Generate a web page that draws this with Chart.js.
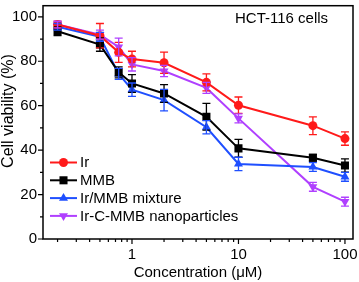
<!DOCTYPE html>
<html>
<head>
<script src="https://cdn.jsdelivr.net/npm/chart.js@4.4.0/dist/chart.umd.min.js"></script>
<style>
  html, body { margin: 0; padding: 0; background: #fff; }
  #wrap { width: 359px; height: 282px; }
</style>
</head>
<body>
<div id="wrap"><canvas id="myChart" width="359" height="282"></canvas></div>
<script>
// concentration (uM) and cell viability (%)
const conc = [0.2, 0.5, 0.75, 1, 2, 5, 10, 50, 100]

const irMean  = [96.5, 91.5, 84, 81, 79.3, 70.5, 60.2, 51, 45.2]
const irErr   = [1.5, 5.5, 4.5, 3.5, 4.8, 3.8, 3.7, 4, 3]
const mmbMean = [93.5, 87.5, 75, 70, 65.5, 55, 40.8, 36.6, 33.1]
const mmbErr  = [2, 3, 2.5, 4, 4, 6, 4, 1.5, 3]
const mixMean = [95.5, 91, 74.3, 67.2, 62.5, 50.3, 33.8, 32.4, 28]
const mixErr  = [1.5, 2, 2.5, 3, 4.8, 3, 3, 2, 2]
const nanoMean = [96.5, 92, 86.4, 78.6, 75.6, 68, 54.3, 23.5, 16.8]
const nanoErr  = [1.5, 2, 4, 3, 2.5, 2.5, 2, 2, 2]

const seriesNames = ['Ir', 'MMB', 'Ir/MMB mixture', 'Ir-C-MMB nanoparticles']
const xMajor = [1, 10, 100]
const yMajor = [0, 20, 40, 60, 80, 100]

const FONT = 'Arial, "Liberation Sans", sans-serif'

const toPoints = (arr) => conc.map((c, i) => ({ x: c, y: arr[i] }))

// 오차 막대
const errorBars = {
    id: 'errorBars',
    afterDatasetsDraw(chart) {
        const ctx = chart.ctx
        const ys = chart.scales.y
        chart.data.datasets.forEach((ds, di) => {
            const meta = chart.getDatasetMeta(di)
            ctx.save()
            ctx.strokeStyle = ds.borderColor
            ctx.lineWidth = 1.3
            meta.data.forEach((pt, i) => {
                const v = ds.data[i].y
                const e = ds.errors[i]
                const top = ys.getPixelForValue(v + e)
                const bot = ys.getPixelForValue(v - e)
                ctx.beginPath()
                ctx.moveTo(pt.x, top); ctx.lineTo(pt.x, bot)
                ctx.moveTo(pt.x - 4, top); ctx.lineTo(pt.x + 4, top)
                ctx.moveTo(pt.x - 4, bot); ctx.lineTo(pt.x + 4, bot)
                ctx.stroke()
            })
            ctx.restore()
        })
    }
}

// frame, ticks, legend, y title, annotation
const decor = {
    id: 'decor',
    afterDraw(chart) {
        const ctx = chart.ctx
        const a = chart.chartArea
        const xs = chart.scales.x
        const ys = chart.scales.y
        ctx.save()
        ctx.strokeStyle = '#000'
        ctx.lineWidth = 1.5
        ctx.strokeRect(a.left, a.top, a.right - a.left, a.bottom - a.top)

        ctx.lineWidth = 1.2
        ctx.beginPath()
        // x ticks (log, minors 2..9)
        for (let d = 0.1; d <= 100; d *= 10) {
            for (let m = 1; m <= 9; m++) {
                const v = d * m
                if (v < xs.min || v > xs.max) continue
                const px = xs.getPixelForValue(v)
                const len = (m === 1) ? 5 : 3
                ctx.moveTo(px, a.bottom); ctx.lineTo(px, a.bottom + len)
            }
        }
        // y ticks
        for (let v = 0; v <= 100; v += 10) {
            const py = ys.getPixelForValue(v)
            const len = (v % 20 === 0) ? 5 : 3
            ctx.moveTo(a.left, py); ctx.lineTo(a.left - len, py)
        }
        ctx.stroke()

        // legend
        ctx.font = '15px ' + FONT
        ctx.textBaseline = 'middle'
        ctx.textAlign = 'left'
        chart.data.datasets.forEach((ds, i) => {
            const y = 162.5 + i * 17.8
            ctx.strokeStyle = ds.borderColor
            ctx.lineWidth = 2
            ctx.beginPath(); ctx.moveTo(50, y); ctx.lineTo(77, y); ctx.stroke()
            ctx.fillStyle = ds.borderColor
            Chart.helpers.drawPoint(ctx, {
                pointStyle: ds.pointStyle,
                radius: ds.pointRadius,
                rotation: ds.pointRotation || 0,
                borderWidth: 0
            }, 63.5, y)
            ctx.fillStyle = '#000'
            ctx.fillText(seriesNames[i], 80, y + 0.5)
        })

        // annotation
        ctx.fillText('HCT-116 cells', 235, 18.5)

        // y title
        ctx.font = '16px ' + FONT
        ctx.textAlign = 'center'
        ctx.translate(8.5, 111)
        ctx.rotate(-Math.PI / 2)
        ctx.fillText('Cell viability (%)', 0, 0)
        ctx.restore()
    }
}

const mk = (label, arr, err, color, style, radius, rot) => ({
    label: label,
    data: toPoints(arr),
    errors: err,
    borderColor: color,
    backgroundColor: color,
    borderWidth: 2,
    pointStyle: style,
    pointRadius: radius,
    pointRotation: rot,
    pointBorderWidth: 0,
    tension: 0
})

const data = {
    datasets: [
        mk(seriesNames[0], irMean, irErr, '#ff1a1a', 'circle', 4.5, 0),
        mk(seriesNames[1], mmbMean, mmbErr, '#000000', 'rect', 5.7, 0),
        mk(seriesNames[2], mixMean, mixErr, '#1f4fff', 'triangle', 5.2, 0),
        mk(seriesNames[3], nanoMean, nanoErr, '#b040ff', 'triangle', 5.2, 180)
    ]
}

const config = {
    type: 'line',
    data: data,
    plugins: [errorBars, decor],
    options: {
        responsive: false,
        animation: false,
        layout: { padding: { left: 0, top: 2, right: 6, bottom: 0 } },
        plugins: { legend: { display: false }, tooltip: { enabled: false } },
        scales: {
            x: {
                type: 'logarithmic',
                min: 0.146,
                max: 119,
                afterBuildTicks: (s) => { s.ticks = xMajor.map(v => ({ value: v })) },
                afterFit: (s) => { s.height = 43; s.paddingLeft = 0; s.paddingRight = 0 },
                grid: { display: false, drawTicks: false },
                border: { display: false },
                ticks: {
                    padding: 7,
                    color: '#000',
                    font: { family: FONT, size: 15 },
                    callback: (v) => String(v),
                    maxRotation: 0,
                    autoSkip: false
                },
                title: {
                    display: true,
                    text: 'Concentration (\u03bcM)',
                    color: '#000',
                    font: { family: FONT, size: 15 },
                    padding: { top: 0, bottom: 0 }
                }
            },
            y: {
                min: 0,
                max: 105,
                afterBuildTicks: (s) => { s.ticks = yMajor.map(v => ({ value: v })) },
                afterFit: (s) => { s.width = 43; s.paddingTop = 0; s.paddingBottom = 0 },
                grid: { display: false, drawTicks: false },
                border: { display: false },
                ticks: {
                    padding: 6,
                    color: '#000',
                    font: { family: FONT, size: 15 }
                }
            }
        }
    }
}

const myChart = new Chart(document.getElementById('myChart'), config)
</script>
</body>
</html>
